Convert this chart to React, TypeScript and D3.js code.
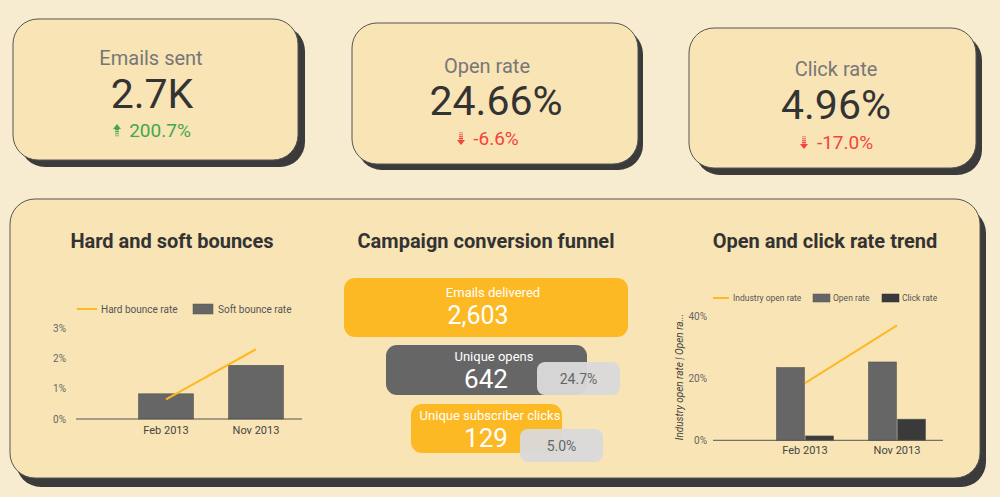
import React from "react";
import * as d3 from "d3";

// ---------- data ----------
const kpiTitles = ["Emails sent", "Open rate", "Click rate"];
const kpiValues = ["2.7K", "24.66%", "4.96%"];
const kpiDeltas = [200.7, -6.6, -17.0];

const months = ["Feb 2013", "Nov 2013"];
const softBounceRate = [0.83, 1.77];
const hardBounceRate = [0.65, 2.3];
const bounceTicks = [0, 1, 2, 3];

const funnelLabels = ["Emails delivered", "Unique opens", "Unique subscriber clicks"];
const funnelValues = [2603, 642, 129];

const trendSeries = ["Open rate", "Click rate"];
const openRate = [23.4, 25.2];
const clickRate = [1.4, 6.8];
const industryOpenRate = [18.4, 37.0];
const trendTicks = [0, 20, 40];

// ---------- layout ----------
const W = 1000, H = 497;
const BG = "#f8ecd0";
const CARD = "#f9e4b5";
const SHADOW = "#3b3b3b";
const AMBER = "#fdb924";
const GREY = "#666666";
const DARK = "#3a3a3a";
const FONT = "Roboto, 'Noto Sans', sans-serif";

const kpiBoxes = [
  { x: 13, y: 19, w: 285, h: 141, sx: 7, sy: 7, cx: [151, 152, 160], by: [65, 108, 137], ax: 117 },
  { x: 352, y: 23, w: 286, h: 141, sx: 5, sy: 6, cx: [487, 496, 496], by: [73, 115, 145], ax: 461 },
  { x: 689, y: 28, w: 287, h: 140, sx: 6, sy: 7, cx: [836, 836, 845], by: [76, 119, 149], ax: 804 },
];

const funnelBoxes = [
  { x: 344, y: 278, w: 284, h: 59, fill: AMBER, lx: 493, ly: 297, vx: 478, vy: 324, vs: 25 },
  { x: 386, y: 345, w: 201, h: 50, fill: GREY, lx: 494, ly: 361, vx: 486, vy: 388, vs: 26 },
  { x: 411, y: 404, w: 151, h: 49, fill: AMBER, lx: 490, ly: 420, vx: 486, vy: 447, vs: 26 },
];
const pctBoxes = [
  null,
  { x: 537, y: 362, w: 83, h: 33 },
  { x: 520, y: 429, w: 83, h: 33 },
];

function Arrow({ x, y, up, color }: { x: number; y: number; up: boolean; color: string }) {
  const stripes = [0, 1, 2, 3];
  if (up) {
    return (
      <g>
        <path d={`M${x - 4},${y + 5} L${x},${y} L${x + 4},${y + 5} Z`} fill={color} />
        {stripes.map((i) => (
          <rect key={i} x={x - 2} y={y + 5 + i * 2} width={4} height={1.4} fill={color} opacity={1 - i * 0.18} />
        ))}
      </g>
    );
  }
  return (
    <g>
      {stripes.map((i) => (
        <rect key={i} x={x - 2} y={y + i * 2} width={4} height={1.4} fill={color} opacity={0.45 + i * 0.18} />
      ))}
      <path d={`M${x - 4},${y + 8} L${x},${y + 13} L${x + 4},${y + 8} Z`} fill={color} />
    </g>
  );
}

export default function App() {
  // ----- bounce chart scales -----
  const bx = d3.scaleBand<string>().domain(months).range([121, 301]).paddingInner(0.39).paddingOuter(0.195);
  const by = d3.scaleLinear().domain([0, 3]).range([419, 328]);
  const hardLine = d3
    .line<number>()
    .x((_, i) => (bx(months[i]) as number) + bx.bandwidth() / 2)
    .y((d) => by(d));

  // ----- trend chart scales -----
  const tx = d3.scaleBand<string>().domain(months).range([759, 943]).paddingInner(0.38).paddingOuter(0.19);
  const tInner = d3.scaleBand<string>().domain(trendSeries).range([0, tx.bandwidth()]).paddingInner(0.04);
  const ty = d3.scaleLinear().domain([0, 40]).range([440.3, 316]);
  const industryLine = d3
    .line<number>()
    .x((_, i) => (tx(months[i]) as number) + tx.bandwidth() / 2)
    .y((d) => ty(d));
  const trendValues = [openRate, clickRate];
  const trendColors = [GREY, DARK];

  const fmtComma = d3.format(",");
  const fmtPct = d3.format(".1%");
  const fmtDelta = (v: number) => v.toFixed(1) + "%";

  return (
    <svg
      width={W}
      height={H}
      style={{ position: "absolute", left: 0, top: 0, fontFamily: FONT }}
      viewBox={`0 0 ${W} ${H}`}
    >
      <rect x={0} y={0} width={W} height={H} fill={BG} />

      {/* KPI cards */}
      {kpiBoxes.map((b, i) => {
        const up = kpiDeltas[i] >= 0;
        const col = up ? "#43a84a" : "#f2443a";
        return (
          <g key={i}>
            <rect x={b.x + b.sx} y={b.y + b.sy} width={b.w} height={b.h} rx={25} fill={SHADOW} />
            <rect x={b.x} y={b.y} width={b.w} height={b.h} rx={25} fill={CARD} stroke="#555" strokeWidth={1} />
            <text x={b.cx[0]} y={b.by[0]} textAnchor="middle" fontSize={20} fill="#777">
              {kpiTitles[i]}
            </text>
            <text x={b.cx[1]} y={b.by[1]} textAnchor="middle" fontSize={41} fill="#333">
              {kpiValues[i]}
            </text>
            <Arrow x={b.ax} y={b.by[2] - 13} up={up} color={col} />
            <text x={b.cx[2]} y={b.by[2]} textAnchor="middle" fontSize={19} fill={col}>
              {fmtDelta(kpiDeltas[i])}
            </text>
          </g>
        );
      })}

      {/* Big panel */}
      <rect x={16} y={208} width={970} height={279} rx={25} fill={SHADOW} />
      <rect x={10} y={199} width={970} height={279} rx={25} fill={CARD} stroke="#555" strokeWidth={1} />

      {/* Titles */}
      <text x={172} y={248} textAnchor="middle" fontSize={20} fontWeight={700} fill="#333">
        Hard and soft bounces
      </text>
      <text x={486} y={248} textAnchor="middle" fontSize={20} fontWeight={700} fill="#333">
        Campaign conversion funnel
      </text>
      <text x={825} y={248} textAnchor="middle" fontSize={20} fontWeight={700} fill="#333">
        Open and click rate trend
      </text>

      {/* ---- Hard and soft bounces ---- */}
      <g fontSize={10} fill="#555">
        <line x1={77} x2={97} y1={309} y2={309} stroke={AMBER} strokeWidth={2} />
        <text x={101} y={312.5}>Hard bounce rate</text>
        <rect x={193} y={304} width={20} height={10} fill={GREY} stroke="#555" strokeWidth={0.5} />
        <text x={218} y={312.5}>Soft bounce rate</text>
      </g>
      {bounceTicks.map((t) => (
        <text key={t} x={66} y={by(t) + 3.5} textAnchor="end" fontSize={10} fill="#666">
          {t + "%"}
        </text>
      ))}
      {months.map((m, i) => (
        <rect
          key={m}
          x={bx(m) as number}
          y={by(softBounceRate[i])}
          width={bx.bandwidth()}
          height={by(0) - by(softBounceRate[i])}
          fill={GREY}
          stroke="#555"
          strokeWidth={0.6}
        />
      ))}
      <line x1={76} x2={302} y1={by(0)} y2={by(0)} stroke="#555" strokeWidth={1} />
      <path d={hardLine(hardBounceRate) || ""} fill="none" stroke={AMBER} strokeWidth={2} />
      {months.map((m) => (
        <text key={m} x={(bx(m) as number) + bx.bandwidth() / 2} y={434} textAnchor="middle" fontSize={11} fill="#444">
          {m}
        </text>
      ))}

      {/* ---- Funnel ---- */}
      {funnelBoxes.map((b, i) => (
        <g key={i}>
          <rect x={b.x} y={b.y} width={b.w} height={b.h} rx={11} fill={b.fill} />
          <text x={b.lx} y={b.ly} textAnchor="middle" fontSize={13} fill="#fff">
            {funnelLabels[i]}
          </text>
          <text x={b.vx} y={b.vy} textAnchor="middle" fontSize={b.vs} fill="#fff">
            {fmtComma(funnelValues[i])}
          </text>
        </g>
      ))}
      {pctBoxes.map((p, i) =>
        p ? (
          <g key={i}>
            <rect x={p.x} y={p.y} width={p.w} height={p.h} rx={8} fill="#dadada" fillOpacity={0.96} />
            <text x={p.x + p.w / 2} y={p.y + p.h / 2 + 5} textAnchor="middle" fontSize={14} fill="#666">
              {fmtPct(funnelValues[i] / funnelValues[0])}
            </text>
          </g>
        ) : null
      )}

      {/* ---- Open and click rate trend ---- */}
      <g fontSize={8.5} fill="#555">
        <line x1={713} x2={729} y1={298} y2={298} stroke={AMBER} strokeWidth={2} />
        <text x={733} y={301}>Industry open rate</text>
        <rect x={813} y={294} width={17} height={8} fill={GREY} stroke="#555" strokeWidth={0.5} />
        <text x={833} y={301}>Open rate</text>
        <rect x={882} y={294} width={17} height={8} fill={DARK} stroke="#333" strokeWidth={0.5} />
        <text x={902} y={301}>Click rate</text>
      </g>
      {trendTicks.map((t) => (
        <text key={t} x={707} y={ty(t) + 3.5} textAnchor="end" fontSize={10} fill="#666">
          {t + "%"}
        </text>
      ))}
      <text
        transform={`translate(683,${377}) rotate(-90)`}
        textAnchor="middle"
        fontSize={10}
        fontStyle="italic"
        fill="#444"
      >
        Industry open rate | Open ra...
      </text>
      {months.map((m, i) =>
        trendSeries.map((s, j) => {
          const v = trendValues[j][i];
          return (
            <rect
              key={m + s}
              x={(tx(m) as number) + (tInner(s) as number)}
              y={ty(v)}
              width={tInner.bandwidth()}
              height={ty(0) - ty(v)}
              fill={trendColors[j]}
              stroke="#555"
              strokeWidth={0.6}
            />
          );
        })
      )}
      <line x1={713} x2={943} y1={ty(0)} y2={ty(0)} stroke="#555" strokeWidth={1} />
      <path d={industryLine(industryOpenRate) || ""} fill="none" stroke={AMBER} strokeWidth={2} />
      {months.map((m) => (
        <text key={m} x={(tx(m) as number) + tx.bandwidth() / 2} y={454} textAnchor="middle" fontSize={11} fill="#444">
          {m}
        </text>
      ))}
    </svg>
  );
}
